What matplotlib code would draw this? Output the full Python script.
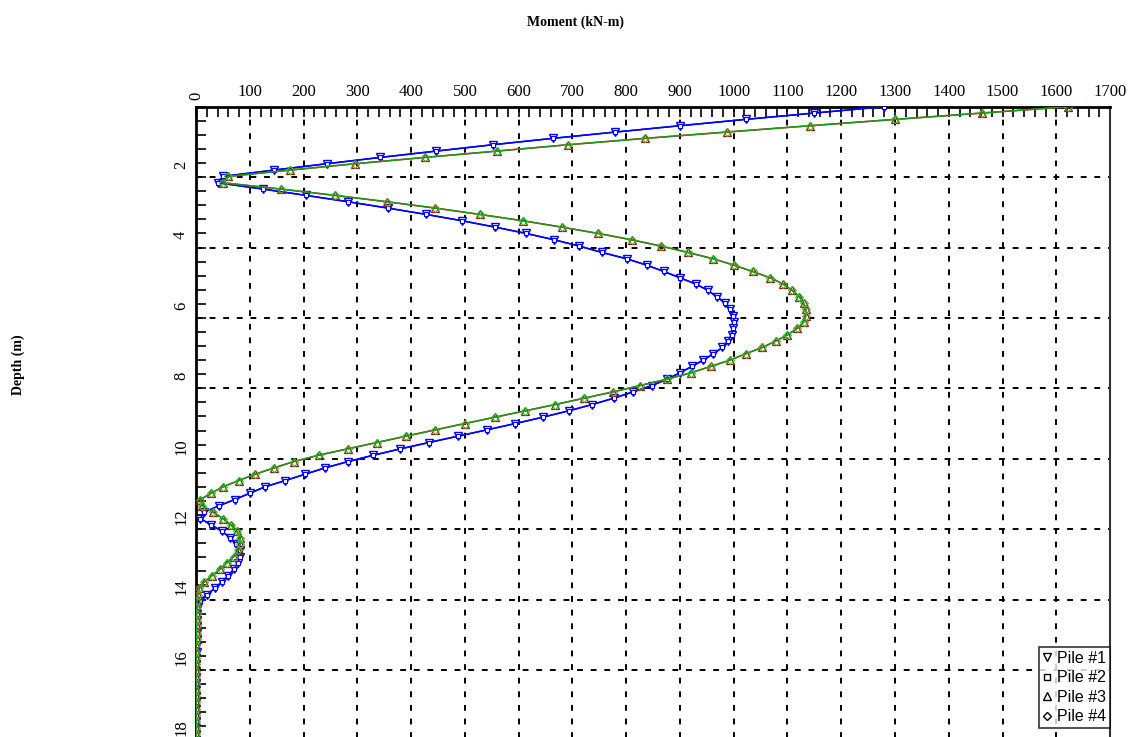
import matplotlib
matplotlib.use("Agg")
import matplotlib.pyplot as plt
from matplotlib.lines import Line2D
from matplotlib.ticker import MultipleLocator
from matplotlib.transforms import ScaledTranslation

# node spacing along the pile (m)
dz = 0.18

# bending moment (kN-m) at each node, piles 1/2 and piles 3/4
moment_p1 = [1280, 1150, 1022, 900, 780, 663, 552, 447, 343, 243,
             145, 50, 40, 125, 205, 283, 357, 428, 495, 556,
             614, 666, 713, 755, 801, 838, 870, 900, 930, 952,
             969, 984, 993, 999, 1001, 999, 996, 989, 979, 962,
             943, 922, 900, 876, 848, 813, 777, 737, 693, 645,
             594, 541, 487, 433, 380, 330, 283, 240, 203, 166,
             128, 100, 72, 42, 15, 8, 28, 48, 63, 75,
             81, 82, 78, 70, 60, 48, 35, 20, 7, 3,
             2, 2, 1, 1, 1, 1, 1, 0, 0, 0,
             0, 0, 0, 0, 0, 0, 0, 0, 0, 0, 0]
moment_p2 = list(moment_p1)

moment_p4 = [1622, 1462, 1300, 1142, 987, 835, 692, 560, 426, 296,
             175, 60, 50, 158, 259, 355, 445, 528, 608, 680,
             748, 810, 865, 915, 962, 1000, 1035, 1068, 1092, 1109,
             1122, 1130, 1134, 1134, 1130, 1118, 1100, 1078, 1053, 1022,
             993, 957, 920, 876, 826, 776, 722, 668, 612, 556,
             500, 445, 390, 336, 282, 228, 182, 145, 110, 79,
             50, 28, 8, 12, 32, 50, 65, 76, 82, 82,
             78, 70, 57, 44, 30, 15, 6, 3, 2, 2,
             1, 1, 1, 1, 1, 0, 0, 0, 0, 0,
             0, 0, 0, 0, 0, 0, 0, 0, 0, 0, 0]
moment_p3 = list(moment_p4)

depth = [round(i * dz, 2) for i in range(len(moment_p1))]

pile_labels = ["Pile #1", "Pile #2", "Pile #3", "Pile #4"]
x_ticks = list(range(0, 1800, 100))
y_ticks = list(range(2, 20, 2))

fig = plt.figure(figsize=(11.28, 7.37), dpi=100)
ax = fig.add_axes([0.1738, -0.0284, 0.8103, 0.8836])

serif = "Liberation Serif"

ax.plot(moment_p1, depth, color="#0000ff", lw=1.1, marker="v", ms=5.5,
        mfc="white", mec="#0000ff", mew=1.0, zorder=3)
ax.plot(moment_p2, depth, color="#0000ff", lw=1.1, marker="s", ms=2.5,
        mfc="white", mec="#0000ff", mew=0.8, zorder=3)
ax.plot(moment_p3, depth, color="#d01010", lw=1.1, marker="^", ms=5.5,
        mfc="none", mec="#a01800", mew=0.9, zorder=3)
ax.plot(moment_p4, depth, color="#1a9a1a", lw=1.1, marker="D", ms=3.8,
        mfc="none", mec="#33bb33", mew=0.8, zorder=4)

ax.set_xlim(0, 1700)
ax.set_ylim(18.5, 0)

ax.xaxis.tick_top()
ax.set_xticks(x_ticks)
ax.set_xticklabels([str(v) for v in x_ticks])
ax.xaxis.set_minor_locator(MultipleLocator(20))
ax.set_yticks(y_ticks)
ax.set_yticklabels([str(v) for v in y_ticks], rotation=90, va="center")
ax.yaxis.set_minor_locator(MultipleLocator(0.4))

ax.tick_params(axis="x", which="both", direction="in", length=7, width=1.2,
               top=True, bottom=False, pad=5, labelsize=12)
ax.tick_params(axis="y", which="both", direction="in", length=7, width=1.2,
               left=True, right=False, pad=5, labelsize=12)
for lab in ax.get_xticklabels() + ax.get_yticklabels():
    lab.set_fontfamily(serif)
# the 0 label stands on its side
ax.get_xticklabels()[0].set_rotation(90)
ax.get_xticklabels()[0].set_va("bottom")
# depth labels sit a little above their ticks
for lab in ax.get_yticklabels():
    lab.set_transform(lab.get_transform() + ScaledTranslation(0, 9 / 72, fig.dpi_scale_trans))

ax.grid(True, which="major", color="black", linestyle=(0, (3, 4)), lw=1.4)
ax.set_axisbelow(True)

for side in ["top", "left"]:
    ax.spines[side].set_linewidth(2)
ax.spines["right"].set_linewidth(1.5)
ax.spines["right"].set_color("#333333")
ax.spines["bottom"].set_visible(False)

fig.text(0.51, 0.97, "Moment (kN-m)", ha="center", va="center",
         fontfamily=serif, fontweight="bold", fontsize=10)
fig.text(0.016, 0.505, "Depth (m)", ha="center", va="center", rotation=90,
         fontfamily=serif, fontweight="bold", fontsize=10)

handles = [Line2D([], [], ls="none", marker=m, ms=s, mfc="white", mec="black", mew=1.0)
           for m, s in zip(["v", "s", "^", "D"], [5.5, 4, 5.5, 4.5])]
leg = fig.legend(handles, pile_labels, loc="upper right",
                 bbox_to_anchor=(1110 / 1128, 1 - 647 / 737),
                 prop={"family": "Liberation Sans", "size": 11.5},
                 frameon=True, fancybox=False, handlelength=0.6,
                 handletextpad=0.3, borderpad=0.25, labelspacing=0.28,
                 borderaxespad=0)
leg.get_frame().set_edgecolor("black")
leg.get_frame().set_linewidth(1.2)

fig.savefig("out.png", dpi=100)
